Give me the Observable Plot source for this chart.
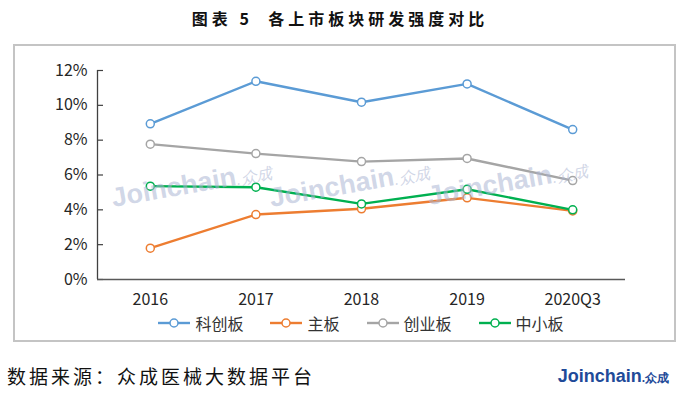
<!DOCTYPE html>
<html>
<head>
<meta charset="utf-8">
<script src="https://cdn.jsdelivr.net/npm/d3@7"></script>
<script src="https://cdn.jsdelivr.net/npm/@observablehq/plot@0.6"></script>
<style>
  html, body { margin: 0; padding: 0; background: #fff; }
  body { width: 680px; height: 398px; position: relative; overflow: hidden; font-family: "Noto Sans CJK SC", "Noto Sans", sans-serif; }
  #title { position: absolute; left: 0; width: 680px; top: 7px; text-align: center; font-size: 16px; font-weight: 700; letter-spacing: 4px; line-height: 22px; color: #111; white-space: pre; }
  #box { position: absolute; left: 13px; top: 44px; width: 663px; height: 298px; box-sizing: border-box; border: 2px solid #c4c4c4; }
  #chart { position: absolute; left: 0; top: 45px; }
  .wm { position: absolute; font-family: "Liberation Sans", Arial, sans-serif; font-weight: 700; font-size: 27px; line-height: 30px; color: rgba(170, 180, 210, 0.55); transform-origin: 0 50%; transform: rotate(-10deg); white-space: nowrap; }
  .wm small { font-size: 16px; font-weight: 400; font-style: italic; }
  #legend { position: absolute; left: 97px; width: 528px; top: 313px; height: 20px; display: flex; justify-content: center; align-items: center; gap: 27px; font-size: 16px; color: #333; }
  #legend .item { display: flex; align-items: center; }
  #legend .item span { margin-left: 5px; line-height: 20px; }
  #source { position: absolute; left: 7px; top: 364px; font-size: 19px; letter-spacing: 3px; line-height: 24px; color: #111; white-space: nowrap; }
  #logo { position: absolute; right: 11px; top: 364px; font-family: "Liberation Sans", Arial, sans-serif; font-weight: 700; font-size: 18px; line-height: 24px; color: #1f4b99; white-space: nowrap; }
  #logo small { font-size: 12px; }
</style>
</head>
<body>
<div id="title">图表 5  各上市板块研发强度对比</div>
<div id="box"></div>
<div id="chart"></div>
<div class="wm" style="left:112px; top:183px;">Joinchain<small>.众成</small></div>
<div class="wm" style="left:270px; top:183px;">Joinchain<small>.众成</small></div>
<div class="wm" style="left:428px; top:181px;">Joinchain<small>.众成</small></div>
<div id="legend"></div>
<div id="source">数据来源：众成医械大数据平台</div>
<div id="logo">Joinchain<small>.众成</small></div>
<script>
// ---- data ----
const categories = ["2016", "2017", "2018", "2019", "2020Q3"];
const seriesNames = ["科创板", "主板", "创业板", "中小板"];
const kechuangban = [8.94, 11.38, 10.18, 11.23, 8.61];
const zhuban = [1.80, 3.73, 4.06, 4.69, 3.94];
const chuangyeban = [7.77, 7.23, 6.77, 6.95, 5.68];
const zhongxiaoban = [5.36, 5.30, 4.34, 5.18, 4.00];
const yTicks = [0, 2, 4, 6, 8, 10, 12];
const colors = ["#5b9bd5", "#ed7d31", "#a5a5a5", "#00b050"];

const seriesValues = [kechuangban, zhuban, chuangyeban, zhongxiaoban];
const data = seriesNames.flatMap((s, k) =>
  seriesValues[k].map((v, i) => ({ series: s, i, value: v }))
);

const seriesMarks = seriesNames.flatMap((s) => {
  const rows = data.filter((d) => d.series === s);
  return [
    Plot.line(rows, { x: "i", y: "value", stroke: "series", strokeWidth: 2.4 }),
    Plot.dot(rows, { x: "i", y: "value", stroke: "series", fill: "white", r: 4, strokeWidth: 1.5 })
  ];
});

const chart = Plot.plot({
  width: 680,
  height: 295,
  marginLeft: 97,
  marginRight: 55,
  marginTop: 25,
  marginBottom: 61,
  style: { fontFamily: "'Noto Sans CJK SC', 'Noto Sans', sans-serif", fontSize: "16px", color: "#262626", background: "transparent" },
  x: { type: "linear", domain: [-0.5, categories.length - 0.5], axis: null, label: null },
  y: { domain: [0, 12], axis: null, label: null },
  color: { domain: seriesNames, range: colors },
  marks: [
    Plot.axisY({ ticks: yTicks, tickSize: 0, tickPadding: 10, tickFormat: (d) => d + "%", fontSize: 16, label: null }),
    Plot.tickY(yTicks, { y: (d) => d, insetRight: 522, stroke: "#404040", strokeWidth: 1.2 }),
    Plot.axisX({ ticks: categories.map((_, i) => i), tickFormat: (i) => categories[i], tickSize: 0, tickPadding: 14, fontSize: 16, label: null }),
    Plot.ruleX([-0.5], { y1: 0, y2: 12, stroke: "#404040", strokeWidth: 1.3 }),
    Plot.ruleY([0], { stroke: "#595959", strokeWidth: 1.3 }),
    ...seriesMarks
  ]
});
document.getElementById("chart").appendChild(chart);

// legend
const legend = document.getElementById("legend");
seriesNames.forEach((s, k) => {
  const item = document.createElement("div");
  item.className = "item";
  item.innerHTML =
    `<svg width="32" height="14"><line x1="0" x2="32" y1="7" y2="7" stroke="${colors[k]}" stroke-width="2.4"/>` +
    `<circle cx="16" cy="7" r="4" fill="white" stroke="${colors[k]}" stroke-width="1.5"/></svg><span>${s}</span>`;
  legend.appendChild(item);
});
</script>
</body>
</html>
